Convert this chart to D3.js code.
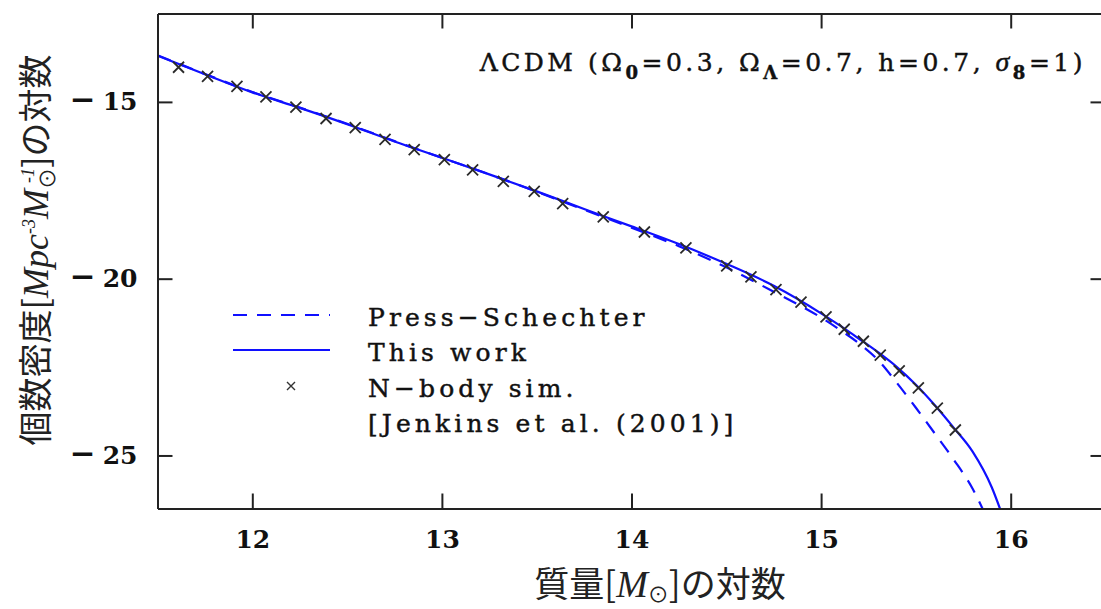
<!DOCTYPE html>
<html>
<head>
<meta charset="utf-8">
<script src="https://cdn.jsdelivr.net/npm/d3@7"></script>
<style>
  html, body { margin: 0; padding: 0; background: #fff; }
  svg { display: block; }
  .serif { font-family: "DejaVu Serif", serif; fill: #111; }
  .heavy { stroke: #111; stroke-width: 0.45px; }
  .cjk { font-family: "Noto Sans CJK JP", sans-serif; fill: #222; }
  .it { font-family: "Liberation Serif", serif; font-style: italic; }
</style>
</head>
<body>
<svg id="chart" width="1101" height="609"></svg>
<script>
// Halo mass function, ΛCDM: log number density vs log mass
const massTicks = [12, 13, 14, 15, 16];
const densityTicks = [-15, -20, -25];

// N-body simulation points (Jenkins et al. 2001)
const simMass = [11.611, 11.764, 11.919, 12.072, 12.230, 12.389, 12.543, 12.700, 12.854, 13.013,
  13.162, 13.324, 13.487, 13.637, 13.851, 14.068, 14.287, 14.502, 14.630, 14.762,
  14.894, 15.026, 15.122, 15.223, 15.312, 15.412, 15.513, 15.613, 15.708];
const simDensity = [-14.02, -14.28, -14.56, -14.86, -15.15, -15.47, -15.73, -16.06, -16.35, -16.63,
  -16.92, -17.25, -17.53, -17.88, -18.25, -18.68, -19.13, -19.64, -19.95, -20.31,
  -20.66, -21.08, -21.43, -21.77, -22.16, -22.61, -23.09, -23.66, -24.28];

// "This work" model curve
const workMass = [11.5, 11.75, 12.0, 12.25, 12.5, 12.75, 13.0, 13.25, 13.5, 13.75, 14.0, 14.25, 14.5,
  14.75, 15.0, 15.1, 15.2, 15.3, 15.4, 15.5, 15.6, 15.7, 15.8, 15.9, 15.95];
const workDensity = [-13.69, -14.22, -14.73, -15.17, -15.63, -16.12, -16.58, -17.05, -17.53, -18.03, -18.52, -19.02, -19.58,
  -20.20, -20.98, -21.33, -21.70, -22.08, -22.50, -23.00, -23.58, -24.22, -24.90, -25.90, -26.60];

// Press–Schechter curve
const psMass = [11.5, 11.75, 12.0, 12.25, 12.5, 12.75, 13.0, 13.25, 13.5, 13.75, 14.0, 14.25, 14.5,
  14.75, 15.0, 15.1, 15.2, 15.3, 15.4, 15.5, 15.6, 15.7, 15.8, 15.86];
const psDensity = [-13.68, -14.21, -14.72, -15.16, -15.62, -16.11, -16.58, -17.05, -17.54, -18.05, -18.56, -19.08, -19.68,
  -20.37, -21.10, -21.45, -21.83, -22.30, -22.95, -23.65, -24.38, -25.12, -25.95, -26.60];

const svg = d3.select("#chart");
const x = d3.scaleLinear().domain([11.5, 16.5]).range([157.5, 1105.5]);
const y = d3.scaleLinear().domain([-26.5, -12.5]).range([508.5, 13.5]);

const [x0, x1] = x.range();
const [yb, yt] = y.range();

svg.append("defs").append("clipPath").attr("id", "plot-clip")
  .append("rect").attr("x", x0).attr("y", yt).attr("width", x1 - x0).attr("height", yb - yt);

// curves
const line = d3.line().x(d => x(d[0])).y(d => y(d[1])).curve(d3.curveMonotoneX);
const curves = svg.append("g").attr("clip-path", "url(#plot-clip)");
curves.append("path")
  .datum(psMass.map((m, i) => [m, psDensity[i]]))
  .attr("d", line).attr("fill", "none").attr("stroke", "#1010ff")
  .attr("stroke-width", 2.2).attr("stroke-dasharray", "14,10");
curves.append("path")
  .datum(workMass.map((m, i) => [m, workDensity[i]]))
  .attr("d", line).attr("fill", "none").attr("stroke", "#1010ff").attr("stroke-width", 2.2);

// simulation crosses
const cross = (s) => `M${-s},${-s}L${s},${s}M${-s},${s}L${s},${-s}`;
svg.append("g").selectAll("path").data(simMass.map((m, i) => [m, simDensity[i]])).join("path")
  .attr("transform", d => `translate(${x(d[0])},${y(d[1])})`)
  .attr("d", cross(5.5)).attr("stroke", "#2a2a2a").attr("stroke-width", 1.8).attr("fill", "none");

// frame with inward ticks on all sides
const tickLen = 15;
const xBottom = d3.axisBottom(x).tickValues(massTicks).tickSizeInner(-tickLen).tickSizeOuter(0)
  .tickPadding(22).tickFormat(d3.format("d"));
const xTop = d3.axisTop(x).tickValues(massTicks).tickSizeInner(-tickLen).tickSizeOuter(0).tickFormat("");
const yLeft = d3.axisLeft(y).tickValues(densityTicks).tickSizeInner(-tickLen).tickSizeOuter(0).tickPadding(20);
const yRight = d3.axisRight(y).tickValues(densityTicks).tickSizeInner(-tickLen).tickSizeOuter(0).tickFormat("");

function styleAxis(g) {
  g.select(".domain").attr("stroke", "#222").attr("stroke-width", 2);
  g.selectAll(".tick line").attr("stroke", "#222").attr("stroke-width", 2);
  g.selectAll(".tick text").attr("class", "serif").attr("fill", "#111")
    .style("font-size", "25px").style("font-weight", "bold");
}
svg.append("g").attr("transform", `translate(0,${yb})`).call(xBottom).call(styleAxis);
svg.append("g").attr("transform", `translate(0,${yt})`).call(xTop).call(styleAxis);
const gy = svg.append("g").attr("transform", `translate(${x0},0)`).call(yLeft).call(styleAxis);
// long minus sign, set a little apart from the digits
gy.selectAll(".tick text").each(function (d) {
  const t = d3.select(this).text("");
  t.append("tspan").style("font-size", "31px").text("\u2212");
  t.append("tspan").attr("dx", 7).text(Math.abs(d));
});
svg.append("g").attr("transform", `translate(${x1},0)`).call(yRight).call(styleAxis);

// model annotation
const note = svg.append("text").attr("class", "serif heavy").attr("x", 1086).attr("y", 71)
  .attr("text-anchor", "end").style("font-size", "25px").style("letter-spacing", "3.5px");
const sub = (t) => note.append("tspan").attr("dy", 8).style("font-size", "18px").style("font-weight", "bold").text(t);
const norm = (t) => note.append("tspan").attr("dy", -8).text(t);
note.append("tspan").text("\u039BCDM (\u03A9");
sub("0"); norm("=0.3, \u03A9");
sub("\u039B"); norm("=0.7, h=0.7, ");
note.append("tspan").attr("class", "it").style("font-size", "28px").text("\u03C3");
sub("8"); norm("=1)");

// legend
const legendItems = [
  { label: "Press\u2212Schechter", kind: "dash", cy: 315 },
  { label: "This work", kind: "solid", cy: 350 },
  { label: "N\u2212body sim.", kind: "cross", cy: 386 },
  { label: "[Jenkins et al. (2001)]", kind: "none", cy: 421 }
];
const legend = svg.append("g");
legendItems.forEach(it => {
  if (it.kind === "dash" || it.kind === "solid") {
    legend.append("line").attr("x1", 233).attr("x2", 330).attr("y1", it.cy).attr("y2", it.cy)
      .attr("stroke", "#1010ff").attr("stroke-width", 2.2)
      .attr("stroke-dasharray", it.kind === "dash" ? "14,10" : null);
  } else if (it.kind === "cross") {
    legend.append("path").attr("transform", `translate(291,${it.cy})`).attr("d", cross(4))
      .attr("stroke", "#333").attr("stroke-width", 1.4);
  }
  legend.append("text").attr("class", "serif heavy").attr("x", 368).attr("y", it.cy + 11)
    .style("font-size", "25px").style("letter-spacing", "4.1px").text(it.label);
});

// axis titles
const xt = svg.append("text").attr("class", "cjk").attr("x", 660).attr("y", 597)
  .attr("text-anchor", "middle").style("font-size", "35px");
xt.append("tspan").text("質量[");
xt.append("tspan").attr("class", "it").style("font-size", "38px").text("M");
xt.append("tspan").attr("dy", 5).style("font-size", "21px").text("\u2299");
xt.append("tspan").attr("dy", -5).text("]の対数");

const ytl = svg.append("text").attr("class", "cjk")
  .attr("transform", "translate(48,250) rotate(-90)")
  .attr("text-anchor", "middle").style("font-size", "34px");
ytl.append("tspan").text("個数密度[");
ytl.append("tspan").attr("class", "it").style("font-size", "36px").text("Mpc");
ytl.append("tspan").attr("dy", -13).style("font-size", "18px").attr("class", "it").text("-3");
ytl.append("tspan").attr("dy", 13).attr("class", "it").style("font-size", "36px").text("M");
ytl.append("tspan").attr("dy", 7).style("font-size", "21px").text("\u2299");
ytl.append("tspan").attr("dx", -15).attr("dy", -21).style("font-size", "18px").attr("class", "it").text("-1");
ytl.append("tspan").attr("dy", 14).text("]の対数");
</script>
</body>
</html>
